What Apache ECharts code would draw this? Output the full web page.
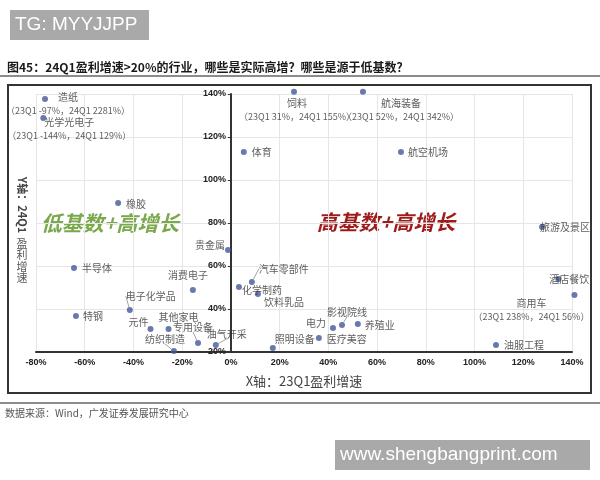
<!DOCTYPE html>
<html>
<head>
<meta charset="utf-8">
<script src="https://cdn.jsdelivr.net/npm/echarts@6/dist/echarts.min.js"></script>
<style>html,body{margin:0;padding:0;background:#fff}#c{width:600px;height:480px}</style>
</head>
<body>
<div id="c"></div>
<script>
// ---- data ----
const categories = ['造纸','光学光电子','饲料','航海装备','体育','航空机场','橡胶','旅游及景区','酒店餐饮','商用车','油服工程','养殖业','影视院线','电力','医疗美容','照明设备','化学制药','汽车零部件','饮料乳品','贵金属','半导体','消费电子','电子化学品','特钢','元件','其他家电','专用设备','纺织制造','油气开采'];
const growth23Q1 = [-76.3,-77,25.9,54.2,5.3,69.8,-46.3,127.7,134.4,141,108.8,52.1,45.6,41.9,36.1,17.2,3.3,8.6,11.1,-1.2,-64.4,-15.6,-41.5,-63.6,-33,-25.6,-13.5,-23.4,-6.2];
const growth24Q1 = [137.7,128.8,141,141,113,113,89.3,78.1,54,46.5,23.3,33,32.6,31.2,26.5,21.9,50.2,52.6,47,67.4,59.1,48.8,39.5,36.7,30.7,30.7,24.2,20.5,23.3];
const notes = {
  '造纸': '（23Q1 -97%，24Q1 2281%）',
  '光学光电子': '（23Q1 -144%，24Q1 129%）',
  '饲料': '（23Q1 31%，24Q1 155%）',
  '航海装备': '（23Q1 52%，24Q1 342%）',
  '商用车': '（23Q1 238%，24Q1 56%）'
};
const xTicks = [-80,-60,-40,-20,0,20,40,60,80,100,120,140];
const yTicks = [20,40,60,80,100,120,140];

// ---- label placement (style) ----
const labelOffsets = {
  '造纸':[23,5],'光学光电子':[26,11],'饲料':[3,18],'航海装备':[38,18],'体育':[18,0],'航空机场':[27,0],
  '橡胶':[18,1],'旅游及景区':[23,0],'酒店餐饮':[11,0],'商用车':[-43,15],'油服工程':[28,0],'养殖业':[22,1],
  '影视院线':[5,-13],'电力':[-17,-5],'医疗美容':[28,1],'照明设备':[22,-9],'化学制药':[23,3],'汽车零部件':[32,-13],
  '饮料乳品':[26,8],'贵金属':[-18,-5],'半导体':[23,0],'消费电子':[-5,-15],'电子化学品':[21,-14],'特钢':[17,0],
  '元件':[-12,-7],'其他家电':[10,-12],'专用设备':[-5,-16],'纺织制造':[-9,-12],'油气开采':[11,-11]
};
const withLeader = ['影视院线','汽车零部件','电子化学品','专用设备','纺织制造','油气开采'];

const data = categories.map((n,i)=>({
  name:n,
  value:[growth23Q1[i], growth24Q1[i]],
  labelLine:{show: withLeader.indexOf(n) >= 0}
}));

const gridLeft = 36, gridRight = 28;
const plotW = 600 - gridLeft - gridRight;
const xMin = xTicks[0], xMax = xTicks[xTicks.length-1];
// shift y axis to x = 0
const yOffset = -plotW * (0 - xMin) / (xMax - xMin);

const chart = echarts.init(document.getElementById('c'), null, {renderer:'canvas'});
const font = '"Noto Sans CJK SC", sans-serif';
chart.setOption({
  animation:false,
  backgroundColor:'#fff',
  grid:{left:gridLeft,right:gridRight,top:94,bottom:128,containLabel:false},
  xAxis:{
    type:'value', min:xMin, max:xMax, interval:20,
    name:'X轴：23Q1盈利增速', nameLocation:'middle', nameGap:23,
    nameTextStyle:{fontSize:13,color:'#444',fontFamily:font},
    axisLine:{onZero:false,lineStyle:{color:'#333',width:2}},
    axisTick:{show:false},
    axisLabel:{formatter:'{value}%',fontSize:9,fontWeight:'bold',color:'#222',margin:6,fontFamily:'Liberation Sans, Arial'},
    splitLine:{show:true,lineStyle:{color:'#e6e6e6',width:1}}
  },
  yAxis:{
    type:'value', min:yTicks[0], max:yTicks[yTicks.length-1], interval:20,
    position:'left', offset:yOffset,
    axisLine:{onZero:false,lineStyle:{color:'#333',width:2}},
    axisTick:{show:true,length:3,lineStyle:{color:'#333'}},
    axisLabel:{formatter:'{value}%',fontSize:9,fontWeight:'bold',color:'#222',margin:5,showMinLabel:true,fontFamily:'Liberation Sans, Arial'},
    splitLine:{show:true,lineStyle:{color:'#e6e6e6',width:1}}
  },
  series:[{
    type:'scatter',
    clip:false,
    symbolSize:6,
    itemStyle:{color:'#41589a'},
    data:data,
    label:{
      show:true, position:'inside', color:'#333', fontSize:10, fontFamily:font, align:'center',
      formatter:function(p){
        return notes[p.name] ? '{a|'+p.name+'}\n{b|'+notes[p.name]+'}' : p.name;
      },
      rich:{
        a:{fontSize:10,color:'#333',fontFamily:font,align:'center',lineHeight:13},
        b:{fontSize:9,color:'#333',fontFamily:font,align:'center',lineHeight:13}
      }
    },
    labelLine:{show:false,lineStyle:{color:'#8a8a8a',width:0.8}},
    labelLayout:function(p){
      const o = labelOffsets[categories[p.dataIndex]] || [0,0];
      return {dx:o[0], dy:o[1]};
    }
  }],
  graphic:[
    {type:'rect',shape:{x:10,y:10,width:139,height:30},style:{fill:'#a9a9a9'},z:10},
    {type:'text',x:15,y:25,style:{text:'TG: MYYJJPP',fill:'#fff',font:'19px "Liberation Sans", Arial',textVerticalAlign:'middle'},z:11},
    {type:'text',x:7,y:67,style:{text:'图45：24Q1盈利增速>20%的行业，哪些是实际高增？哪些是源于低基数？',fill:'#1a1a1a',font:'bold 12px "Noto Sans CJK SC", sans-serif',textVerticalAlign:'middle'}},
    {type:'line',shape:{x1:0,y1:76,x2:600,y2:76},style:{stroke:'#8c8c8c',lineWidth:2}},
    {type:'rect',shape:{x:8,y:85,width:583,height:308},style:{fill:'none',stroke:'#333',lineWidth:2}},
    {type:'line',shape:{x1:0,y1:403,x2:600,y2:403},style:{stroke:'#8c8c8c',lineWidth:2}},
    {type:'text',x:5,y:413,style:{text:'数据来源：Wind，广发证券发展研究中心',fill:'#555',font:'10px "Noto Sans CJK SC", sans-serif',textVerticalAlign:'middle'}},
    {type:'rect',shape:{x:335,y:440,width:255,height:30},style:{fill:'#a9a9a9'},z:10},
    {type:'text',x:340,y:455,style:{text:'www.shengbangprint.com',fill:'#fff',font:'19px "Liberation Sans", Arial',textVerticalAlign:'middle'},z:11},
    {type:'text',x:22,y:205,rotation:-Math.PI/2,style:{text:'Y轴：24Q1',fill:'#444',font:'bold 11px "Noto Sans CJK SC", sans-serif',textAlign:'center',textVerticalAlign:'middle'}},
    {type:'text',x:22,y:238,style:{text:'盈\n利\n增\n速',fill:'#555',font:'11px "Noto Sans CJK SC", sans-serif',textAlign:'center',lineHeight:11.5}},
    {type:'text',x:110,y:223,style:{text:'低基数+高增长',fill:'#7aa84c',font:'italic bold 21px "Noto Sans CJK SC", sans-serif',textAlign:'center',textVerticalAlign:'middle'}},
    {type:'text',x:386,y:222,style:{text:'高基数+高增长',fill:'#9e1b1b',font:'italic bold 21px "Noto Sans CJK SC", sans-serif',textAlign:'center',textVerticalAlign:'middle'}}
  ]
});
</script>
</body>
</html>
